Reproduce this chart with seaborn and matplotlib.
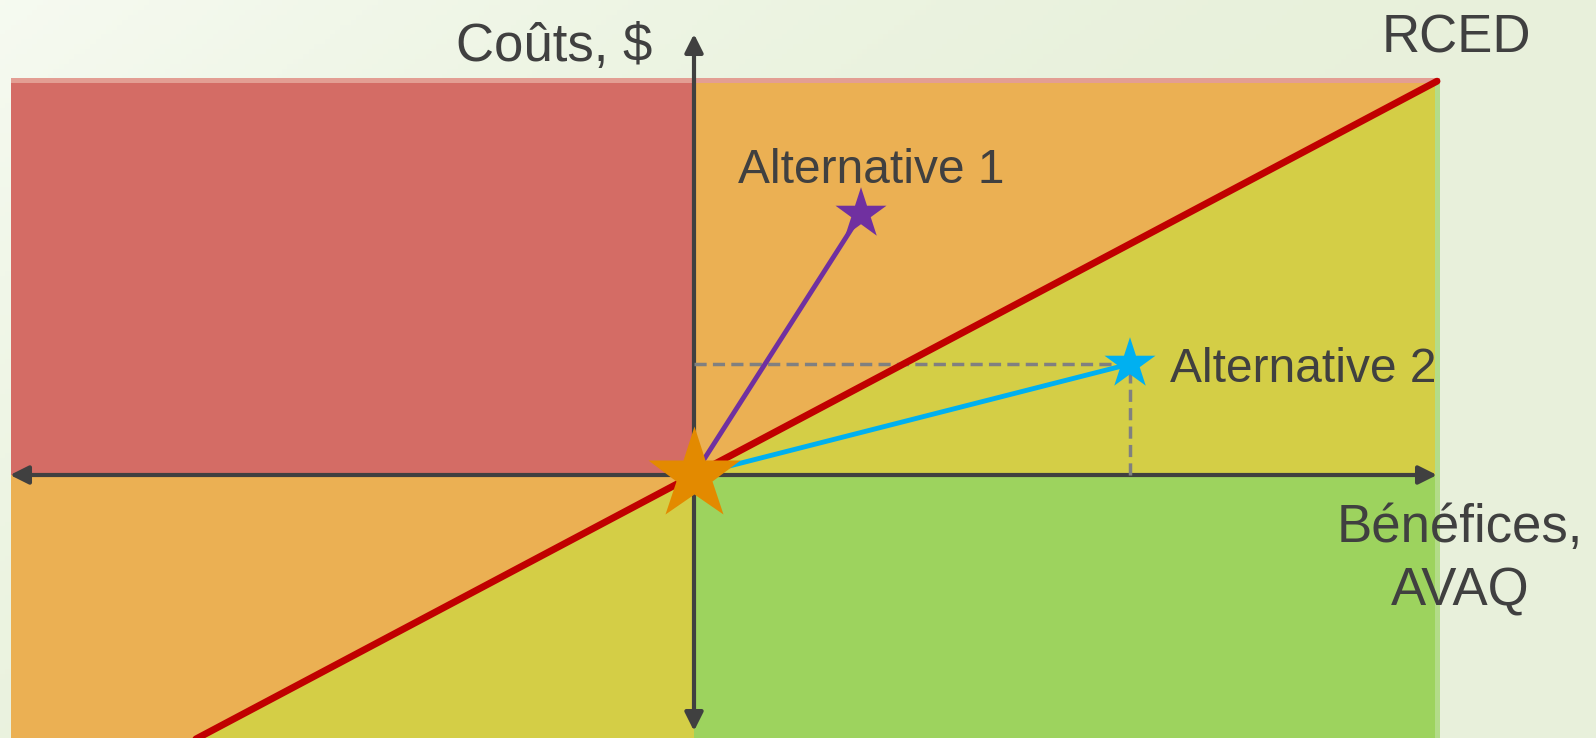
import numpy as np
import matplotlib.pyplot as plt
import seaborn as sns
from matplotlib.patches import Rectangle, Polygon

# plan cout-efficacite, unites ~ 100 px, origine au croisement des axes
rced_slope = 0.53
alt_names = ["Alternative 1", "Alternative 2"]
alt_x = [1.67, 4.36]
alt_y = [2.61, 1.11]
alt_colors = ["#7030A0", "#00B0F0"]
x_left, x_right = -6.83, 7.46
y_bottom, y_top = -2.63, 3.97

sns.set_theme(style="white")
plt.rcParams["font.family"] = ["Liberation Sans", "DejaVu Sans"]

fig = plt.figure(figsize=(15.96, 7.38), dpi=100)
ax = fig.add_axes([0, 0, 1, 1])
xlim = (-6.94, 9.02)
ylim = (-2.63, 4.75)

# fond vert clair en degrade
gx, gy = np.meshgrid(np.linspace(0, 1, 300), np.linspace(0, 1, 150))
t = np.clip(1 - (gx * 1.1 + gy * 0.7), 0, 1)
c0 = np.array([0.91, 0.945, 0.86])
c1 = np.array([0.965, 0.982, 0.945])
img = c0 + (c1 - c0) * (t[..., None] ** 1.5)
ax.imshow(img, extent=(xlim[0], xlim[1], ylim[0], ylim[1]), aspect="auto", origin="upper", zorder=0)

# quadrants
ax.add_patch(Rectangle((x_left, 0), -x_left, y_top, color="#D46C65", lw=0, zorder=1))
ax.add_patch(Rectangle((0, 0), x_right, y_top, color="#EBB053", lw=0, zorder=1))
ax.add_patch(Polygon([(0, 0), (x_right, 0), (x_right, rced_slope * x_right)], color="#D4CE46", lw=0, zorder=1))
ax.add_patch(Rectangle((0, y_bottom), x_right, -y_bottom, color="#9DD35E", lw=0, zorder=1))
ax.add_patch(Rectangle((x_left, y_bottom), -x_left, -y_bottom, color="#EBB053", lw=0, zorder=1))
ax.add_patch(Polygon([(y_bottom / rced_slope, y_bottom), (0, 0), (0, y_bottom)], color="#D4CE46", lw=0, zorder=1))
ax.add_patch(Rectangle((x_left, y_top - 0.05), x_right - x_left, 0.05, color="#E39E93", lw=0, zorder=1.5))
ax.add_patch(Rectangle((x_right - 0.05, y_bottom), 0.05, rced_slope * x_right - y_bottom,
                       color="#B3DC89", lw=0, zorder=1.5))

# axes fleches
arrow_kw = dict(arrowstyle="<|-|>,head_length=1.1,head_width=0.55", color="#404040", lw=3,
                shrinkA=0, shrinkB=0, mutation_scale=10)
ax.annotate("", xy=(7.43, 0), xytext=(-6.84, 0), arrowprops=arrow_kw, zorder=3)
ax.annotate("", xy=(0, 4.41), xytext=(0, -2.56), arrowprops=arrow_kw, zorder=3)

# pointilles vers alternative 2
ax.plot([0, alt_x[1]], [alt_y[1], alt_y[1]], color="#808080", lw=2.5, dashes=(3.5, 1.8), zorder=4)
ax.plot([alt_x[1], alt_x[1]], [0, alt_y[1]], color="#808080", lw=2.5, dashes=(3.5, 1.8), zorder=4)

# RCED
rx = [y_bottom / rced_slope - 0.1, 7.43]
sns.lineplot(x=rx, y=[rced_slope * v for v in rx], color="#C00000", lw=5, ax=ax, zorder=4)

for xx, yy, c in zip(alt_x, alt_y, alt_colors):
    sns.lineplot(x=[0, xx], y=[0, yy], color=c, lw=3.5, ax=ax, zorder=5)

sns.scatterplot(x=alt_x, y=alt_y, hue=alt_names, palette=alt_colors, marker="*", s=38.6 ** 2,
                linewidth=0, legend=False, ax=ax, zorder=6)
ax.plot(0, 0, marker="*", ms=70, color="#E38A00", mec="none", zorder=7)

txt = "#404040"
ax.text(-0.42, 4.14, "Coûts, $", fontsize=38, color=txt, ha="right", va="baseline")
ax.text(7.62, 4.22, "RCED", fontsize=38, color=txt, ha="center", va="baseline")
ax.text(0.44, 2.92, alt_names[0], fontsize=34.5, color=txt, ha="left", va="baseline", zorder=8)
ax.text(4.76, 0.93, alt_names[1], fontsize=34.5, color=txt, ha="left", va="baseline", zorder=8)
ax.text(7.66, -0.67, "Bénéfices,", fontsize=38, color=txt, ha="center", va="baseline", zorder=8)
ax.text(7.66, -1.31, "AVAQ", fontsize=38, color=txt, ha="center", va="baseline", zorder=8)

ax.set_xlim(*xlim)
ax.set_ylim(*ylim)
ax.axis("off")

fig.savefig("out.png", dpi=100)
